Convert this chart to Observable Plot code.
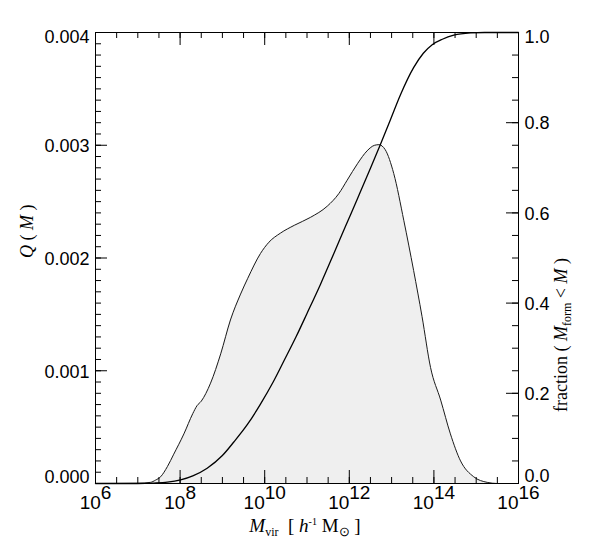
<!DOCTYPE html>
<html><head><meta charset="utf-8">
<script src="https://cdn.jsdelivr.net/npm/d3@7"></script>
<script src="https://cdn.jsdelivr.net/npm/@observablehq/plot@0.6"></script>
<style>body{margin:0;background:#fff}</style>
</head><body><div id="chart"></div>
<script>
// Q(M) distribution (log10 mass, value)
const qLogM = [6.0, 7.0, 7.3, 7.42, 7.54, 7.7, 7.85, 8.09, 8.3, 8.4, 8.5, 8.72, 8.96, 9.19, 9.43, 9.6, 9.9, 10.1, 10.37, 10.7, 11.08, 11.48, 11.75, 11.95, 12.2, 12.42, 12.6, 12.7, 12.85, 13.05, 13.29, 13.52, 13.72, 13.92, 14.16, 14.39, 14.63, 14.94, 15.26, 15.5, 16.0];
const qValues = [0, 0.000002, 0.00001, 0.00003, 0.00006, 0.00015, 0.00026, 0.00044, 0.00062, 0.00069, 0.00073, 0.00089, 0.00115, 0.00145, 0.00168, 0.00182, 0.00204, 0.00214, 0.00222, 0.00229, 0.00236, 0.00246, 0.00257, 0.00269, 0.00284, 0.00295, 0.00300, 0.003005, 0.00296, 0.00275, 0.00233, 0.00189, 0.00148, 0.00103, 0.00074, 0.00044, 0.00020, 0.00006, 0.00001, 0, 0];
// cumulative fraction (log10 mass, fraction)
const fLogM = [6.0, 7.0, 7.38, 7.7, 8.01, 8.3, 8.64, 9.0, 9.27, 9.6, 9.9, 10.2, 10.45, 10.75, 11.0, 11.32, 11.63, 11.9, 12.19, 12.5, 12.74, 12.97, 13.21, 13.52, 13.75, 13.96, 14.2, 14.47, 14.87, 15.2, 16.0];
const fValues = [0, 0, 0.001, 0.003, 0.008, 0.017, 0.034, 0.062, 0.092, 0.132, 0.176, 0.225, 0.271, 0.327, 0.377, 0.442, 0.509, 0.568, 0.631, 0.699, 0.753, 0.806, 0.862, 0.922, 0.954, 0.973, 0.985, 0.994, 0.999, 1.0, 1.0];

// tick values
const xMajorExp = [6, 8, 10, 12, 14, 16];
const xMinorExp = [6, 6.5, 7, 7.5, 8, 8.5, 9, 9.5, 10, 10.5, 11, 11.5, 12, 12.5, 13, 13.5, 14, 14.5, 15, 15.5, 16];
const yLeftMajor = [0, 0.001, 0.002, 0.003, 0.004];
const yLeftMinor = [0, 0.0001, 0.0002, 0.0003, 0.0004, 0.0005, 0.0006, 0.0007, 0.0008, 0.0009, 0.001, 0.0011, 0.0012, 0.0013, 0.0014, 0.0015, 0.0016, 0.0017, 0.0018, 0.0019, 0.002, 0.0021, 0.0022, 0.0023, 0.0024, 0.0025, 0.0026, 0.0027, 0.0028, 0.0029, 0.003, 0.0031, 0.0032, 0.0033, 0.0034, 0.0035, 0.0036, 0.0037, 0.0038, 0.0039, 0.004];
const yRightMajor = [0, 0.2, 0.4, 0.6, 0.8, 1.0];
const yRightMinor = [0, 0.05, 0.1, 0.15, 0.2, 0.25, 0.3, 0.35, 0.4, 0.45, 0.5, 0.55, 0.6, 0.65, 0.7, 0.75, 0.8, 0.85, 0.9, 0.95, 1.0];

const QMAX = 0.004;
const W = 591, H = 550, ML = 95, MR = 73, MT = 32, MB = 67;
const FW = W - ML - MR, FH = H - MT - MB;
const qData = qLogM.map((l, i) => ({m: 10 ** l, q: qValues[i]}));
const fData = fLogM.map((l, i) => ({m: 10 ** l, f: fValues[i] * QMAX}));
const sans = "'Liberation Sans', Arial, Helvetica, sans-serif";
const serif = "'Liberation Serif', 'Times New Roman', serif";
const tx = {tickSize: 0, stroke: "none", label: null, fontSize: 18, fontFamily: sans};
const xl = {frameAnchor: "bottom", lineAnchor: "bottom", fontSize: 19, fontFamily: sans, fill: "#000"};
const midL = yLeftMajor.slice(1, -1), midR = yRightMajor.slice(1, -1);
const MAJ = 13, MIN = 6, YMAJ = 12;

const chart = Plot.plot({
  width: W, height: H,
  marginLeft: ML, marginRight: MR, marginTop: MT, marginBottom: MB,
  x: {type: "log", domain: [1e6, 1e16], axis: null},
  y: {domain: [0, QMAX], axis: null},
  style: {background: "#fff", color: "#000", overflow: "visible"},
  marks: [
    Plot.areaY(qData, {x: "m", y: "q", fill: "#efefef", curve: "monotone-x"}),
    Plot.lineY(qData, {x: "m", y: "q", stroke: "#1a1a1a", strokeWidth: 1, curve: "monotone-x"}),
    Plot.lineY(fData, {x: "m", y: "f", stroke: "#000", strokeWidth: 1.3, curve: "monotone-x"}),
    // x ticks (bottom & top, inward)
    Plot.ruleX(xMinorExp, {x: e => 10 ** e, insetTop: FH - MIN, stroke: "#000"}),
    Plot.ruleX(xMajorExp, {x: e => 10 ** e, insetTop: FH - MAJ, stroke: "#000"}),
    Plot.ruleX(xMinorExp, {x: e => 10 ** e, insetBottom: FH - MIN, stroke: "#000"}),
    Plot.ruleX(xMajorExp, {x: e => 10 ** e, insetBottom: FH - MAJ, stroke: "#000"}),
    // left y ticks (inward)
    Plot.ruleY(yLeftMinor, {y: d => d, insetRight: FW - MIN, stroke: "#000"}),
    Plot.ruleY(yLeftMajor, {y: d => d, insetRight: FW - YMAJ, stroke: "#000"}),
    // right y ticks (inward)
    Plot.ruleY(yRightMinor, {y: v => v * QMAX, insetLeft: FW - MIN, stroke: "#000"}),
    Plot.ruleY(yRightMajor, {y: v => v * QMAX, insetLeft: FW - YMAJ, stroke: "#000"}),
    Plot.frame({stroke: "#000"}),
    // left labels
    Plot.axisY(midL, {anchor: "left", tickPadding: 6, tickFormat: d => d.toFixed(3), dy: 1, ...tx}),
    Plot.axisY([yLeftMajor[yLeftMajor.length - 1]], {anchor: "left", tickPadding: 6, tickFormat: d => d.toFixed(3), dy: 5, ...tx}),
    Plot.axisY([yLeftMajor[0]], {anchor: "left", tickPadding: 6, tickFormat: d => d.toFixed(3), dy: -6, ...tx}),
    // right labels
    Plot.axisY(midR.map(v => v * QMAX), {anchor: "right", tickPadding: 6, tickFormat: d => (d / QMAX).toFixed(1), dy: 1, ...tx}),
    Plot.axisY([yRightMajor[yRightMajor.length - 1] * QMAX], {anchor: "right", tickPadding: 6, tickFormat: d => (d / QMAX).toFixed(1), dy: 5, ...tx}),
    Plot.axisY([yRightMajor[0] * QMAX], {anchor: "right", tickPadding: 6, tickFormat: d => (d / QMAX).toFixed(1), dy: -7, ...tx}),
    // x labels 10^n
    Plot.text(xMajorExp.filter(e => e < 10), {x: e => 10 ** e, text: () => "10", textAnchor: "end", dx: 5.3, dy: 25.3, ...xl}),
    Plot.text(xMajorExp.filter(e => e < 10), {x: e => 10 ** e, text: e => String(e), textAnchor: "start", dx: 5.3, dy: 15.3, ...xl}),
    Plot.text(xMajorExp.filter(e => e >= 10), {x: e => 10 ** e, text: () => "10", textAnchor: "end", dx: 0, dy: 25.3, ...xl}),
    Plot.text(xMajorExp.filter(e => e >= 10), {x: e => 10 ** e, text: e => String(e), textAnchor: "start", dx: 0, dy: 15.3, ...xl}),
    // axis titles (rich text filled in below)
    Plot.text(["XTITLE"], {frameAnchor: "bottom", lineAnchor: "bottom", dy: 48.7, dx: -2, fontSize: 19, fontFamily: serif, fill: "#000"}),
    Plot.text(["QTITLE"], {frameAnchor: "left", rotate: -90, dx: -68, fontSize: 18, fontFamily: serif, fill: "#000"}),
    Plot.text(["FTITLE"], {frameAnchor: "right", rotate: -90, dx: 43, fontSize: 18, fontFamily: serif, fill: "#000"})
  ]
});
document.getElementById("chart").appendChild(chart);

function rich(svg, placeholder, parts) {
  d3.select(svg).selectAll("text").filter(function () { return this.textContent === placeholder; }).each(function () {
    const t = d3.select(this);
    t.text(null).style("white-space", "pre");
    let shift = 0;
    for (const p of parts) {
      const s = t.append("tspan").text(p.t);
      if (p.italic) s.attr("font-style", "italic");
      if (p.size) s.attr("font-size", p.size);
      const target = p.shift || 0;
      if (target !== shift) { s.attr("dy", target - shift); shift = target; }
    }
  });
}
rich(chart, "XTITLE", [
  {t: "M", italic: true}, {t: "vir", size: 12, shift: 4}, {t: "  [ "}, {t: "h", italic: true},
  {t: "-1", size: 10, shift: -7}, {t: " M"}, {t: "\u2299", size: 13, shift: 4}, {t: " ]"}
]);
rich(chart, "QTITLE", [{t: "Q", italic: true}, {t: " ( "}, {t: "M", italic: true}, {t: " )"}]);
rich(chart, "FTITLE", [
  {t: "fraction ( "}, {t: "M", italic: true}, {t: "form", size: 12, shift: 4}, {t: " < "}, {t: "M", italic: true}, {t: " )"}
]);
</script>
</body></html>
